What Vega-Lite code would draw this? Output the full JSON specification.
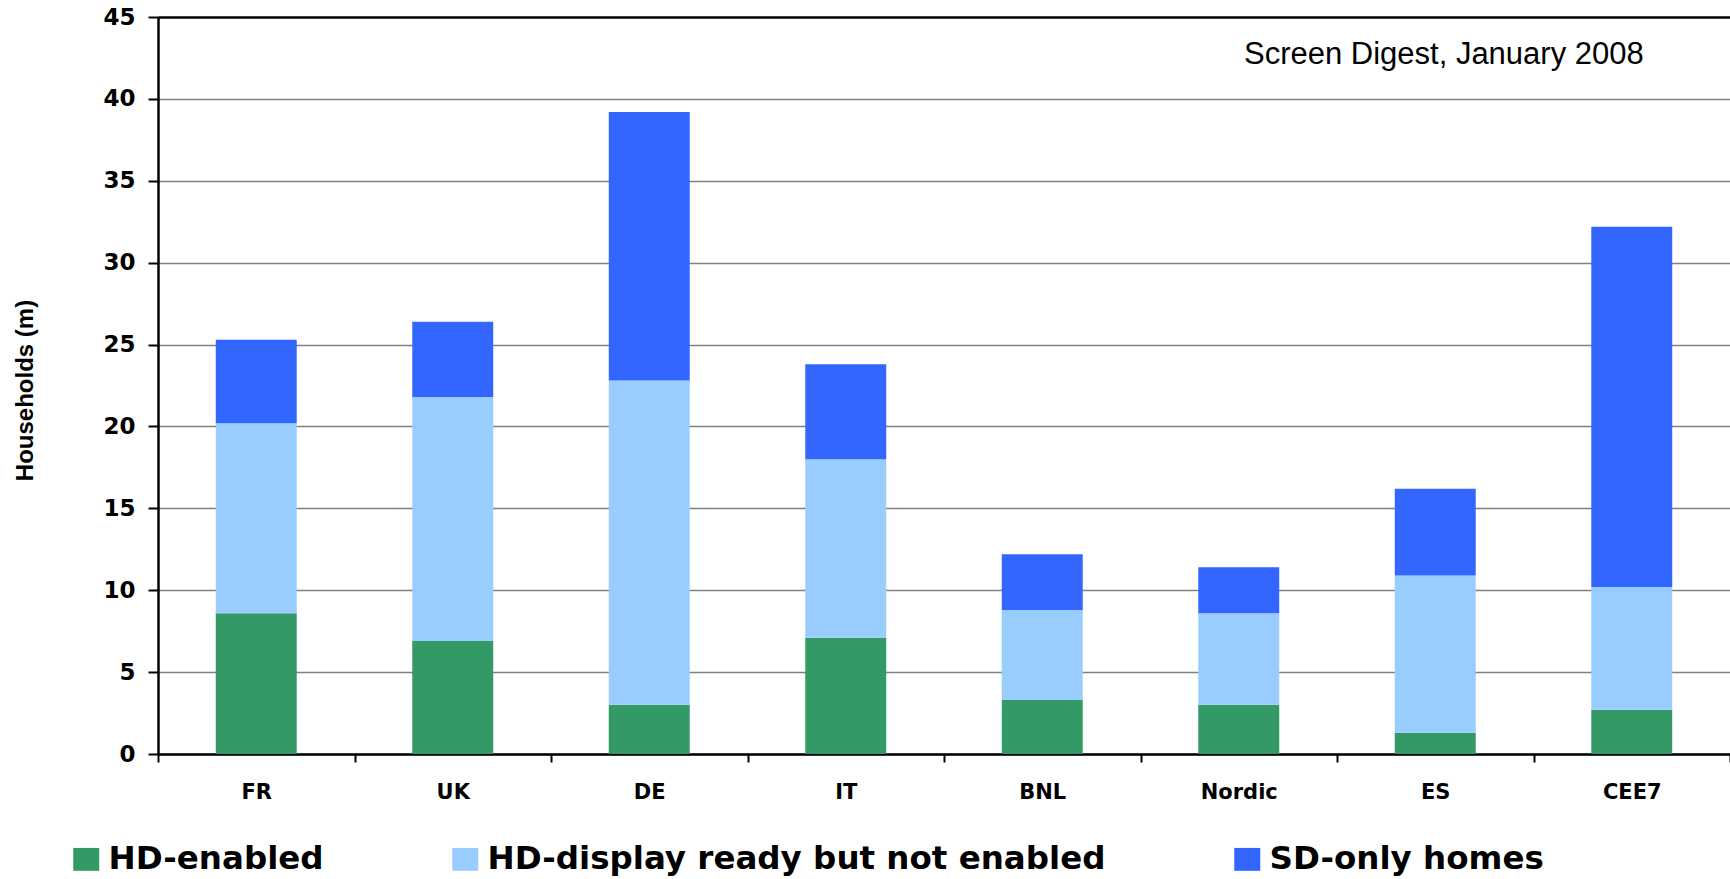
{
  "$schema": "https://vega.github.io/schema/vega-lite/v6.json",
  "width": 1572,
  "height": 737,
  "autosize": {"type": "none"},
  "padding": {"left": 158, "top": 17, "right": 0, "bottom": 125},
  "background": "white",
  "config": {"view": {"stroke": null}, "font": "DejaVu Sans"},
  "layer": [
    {
      "data": {
        "values": [
          {"region": "FR", "series": "HD-enabled", "seq": 1, "value": 8.6},
          {"region": "FR", "series": "HD-display ready but not enabled", "seq": 2, "value": 11.6},
          {"region": "FR", "series": "SD-only homes", "seq": 3, "value": 5.1},
          {"region": "UK", "series": "HD-enabled", "seq": 1, "value": 6.9},
          {"region": "UK", "series": "HD-display ready but not enabled", "seq": 2, "value": 14.9},
          {"region": "UK", "series": "SD-only homes", "seq": 3, "value": 4.6},
          {"region": "DE", "series": "HD-enabled", "seq": 1, "value": 3.0},
          {"region": "DE", "series": "HD-display ready but not enabled", "seq": 2, "value": 19.8},
          {"region": "DE", "series": "SD-only homes", "seq": 3, "value": 16.4},
          {"region": "IT", "series": "HD-enabled", "seq": 1, "value": 7.1},
          {"region": "IT", "series": "HD-display ready but not enabled", "seq": 2, "value": 10.9},
          {"region": "IT", "series": "SD-only homes", "seq": 3, "value": 5.8},
          {"region": "BNL", "series": "HD-enabled", "seq": 1, "value": 3.3},
          {"region": "BNL", "series": "HD-display ready but not enabled", "seq": 2, "value": 5.5},
          {"region": "BNL", "series": "SD-only homes", "seq": 3, "value": 3.4},
          {"region": "Nordic", "series": "HD-enabled", "seq": 1, "value": 3.0},
          {"region": "Nordic", "series": "HD-display ready but not enabled", "seq": 2, "value": 5.6},
          {"region": "Nordic", "series": "SD-only homes", "seq": 3, "value": 2.8},
          {"region": "ES", "series": "HD-enabled", "seq": 1, "value": 1.3},
          {"region": "ES", "series": "HD-display ready but not enabled", "seq": 2, "value": 9.6},
          {"region": "ES", "series": "SD-only homes", "seq": 3, "value": 5.3},
          {"region": "CEE7", "series": "HD-enabled", "seq": 1, "value": 2.7},
          {"region": "CEE7", "series": "HD-display ready but not enabled", "seq": 2, "value": 7.5},
          {"region": "CEE7", "series": "SD-only homes", "seq": 3, "value": 22.0}
        ]
      },
      "mark": {"type": "bar", "width": {"band": 0.412}},
      "encoding": {
        "x": {
          "field": "region",
          "type": "nominal",
          "sort": ["FR", "UK", "DE", "IT", "BNL", "Nordic", "ES", "CEE7"],
          "scale": {"paddingInner": 0, "paddingOuter": 0},
          "axis": {
            "title": null,
            "tickBand": "extent",
            "grid": false,
            "domainColor": "black",
            "domainWidth": 2.5,
            "tickColor": "black",
            "tickWidth": 2,
            "tickSize": 8,
            "labelFont": "DejaVu Sans",
            "labelFontWeight": "bold",
            "labelFontSize": 21,
            "labelColor": "black",
            "labelAngle": 0,
            "labelBaseline": "middle",
            "labelPadding": 30
          }
        },
        "y": {
          "field": "value",
          "type": "quantitative",
          "stack": "zero",
          "scale": {"domain": [0, 45], "nice": false},
          "axis": {
            "title": "Households (m)",
            "values": [0, 5, 10, 15, 20, 25, 30, 35, 40, 45],
            "grid": true,
            "gridColor": {"condition": {"test": "datum.value === 45", "value": "black"}, "value": "#808080"},
            "gridWidth": {"condition": {"test": "datum.value === 45", "value": 2.5}, "value": 1.5},
            "domainColor": "black",
            "domainWidth": 2.5,
            "tickColor": "black",
            "tickWidth": 2,
            "tickSize": 10,
            "labelFont": "DejaVu Sans",
            "labelFontWeight": "bold",
            "labelFontSize": 23,
            "labelColor": "black",
            "labelPadding": 13,
            "titleFont": "Liberation Sans",
            "titleFontWeight": "bold",
            "titleFontSize": 24,
            "titleColor": "black",
            "titleAngle": -90,
            "titleX": -133,
            "titleY": 373,
            "titleAlign": "center",
            "titleBaseline": "middle"
          }
        },
        "color": {
          "field": "series",
          "type": "nominal",
          "scale": {
            "domain": ["HD-enabled", "HD-display ready but not enabled", "SD-only homes"],
            "range": ["#339966", "#99CCFF", "#3366FF"]
          },
          "legend": {
            "title": null,
            "orient": "none",
            "legendX": -88,
            "legendY": 826,
            "direction": "horizontal",
            "columns": 3,
            "columnPadding": 125,
            "padding": 0,
            "symbolType": "M-1,-0.88H1V0.88H-1Z",
            "symbolSize": 676,
            "symbolStrokeWidth": 0,
            "symbolOpacity": 1,
            "labelFont": "DejaVu Sans",
            "labelFontWeight": "bold",
            "labelFontSize": 32.5,
            "labelColor": "black",
            "labelOffset": 6,
            "labelLimit": 0
          }
        },
        "order": {"field": "seq", "type": "quantitative"}
      }
    },
    {
      "data": {"values": [{"note": "Screen Digest, January 2008"}]},
      "mark": {
        "type": "text",
        "font": "Liberation Sans",
        "fontSize": 31,
        "color": "black",
        "align": "right",
        "baseline": "alphabetic",
        "dx": 12
      },
      "encoding": {
        "x": {"datum": "CEE7", "type": "nominal"},
        "y": {"datum": 42.1, "type": "quantitative"},
        "text": {"field": "note", "type": "nominal"}
      }
    }
  ]
}
